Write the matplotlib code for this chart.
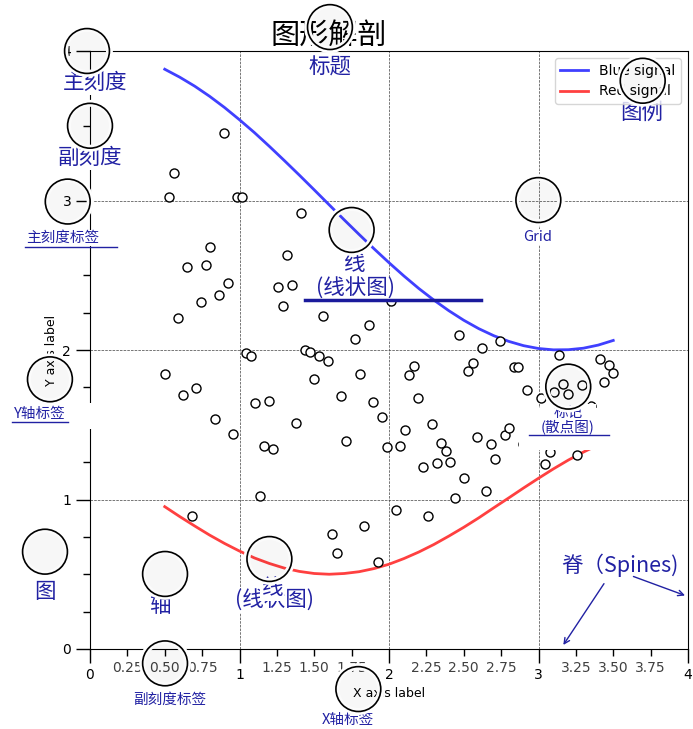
import matplotlib.pyplot as plt
from matplotlib.patches import Circle, Rectangle
from matplotlib.patheffects import withStroke
from matplotlib.ticker import AutoMinorLocator, MultipleLocator, FuncFormatter

# ── DATA ─────────────────────────────────────────────────────────────────────
signal_x = [0.5, 0.6, 0.7, 0.8, 0.9, 1.0, 1.1, 1.2, 1.3, 1.4, 1.5,
            1.6, 1.7, 1.8, 1.9, 2.0, 2.1, 2.2, 2.3, 2.4, 2.5,
            2.6, 2.7, 2.8, 2.9, 3.0, 3.1, 3.2, 3.3, 3.4, 3.5]
blue_signal = [3.878, 3.825, 3.765, 3.697, 3.622, 3.540, 3.454, 3.362, 3.267, 3.170, 3.071,
               2.971, 2.871, 2.773, 2.677, 2.584, 2.495, 2.411, 2.334, 2.263, 2.199,
               2.143, 2.096, 2.058, 2.029, 2.010, 2.001, 2.002, 2.012, 2.033, 2.064]
red_signal = [0.952, 0.886, 0.823, 0.762, 0.706, 0.655, 0.609, 0.572, 0.541, 0.519, 0.505,
              0.500, 0.505, 0.517, 0.538, 0.567, 0.605, 0.649, 0.699, 0.755, 0.814,
              0.877, 0.944, 1.010, 1.077, 1.142, 1.205, 1.264, 1.317, 1.365, 1.406]

marker_x = [0.500, 0.530, 0.561, 0.591, 0.621, 0.652, 0.682, 0.712, 0.742, 0.773,
            0.803, 0.833, 0.864, 0.894, 0.924, 0.955, 0.985, 1.015, 1.045, 1.076,
            1.106, 1.136, 1.167, 1.197, 1.227, 1.258, 1.288, 1.318, 1.348, 1.379,
            1.409, 1.439, 1.470, 1.500, 1.530, 1.561, 1.591, 1.621, 1.652, 1.682,
            1.712, 1.742, 1.773, 1.803, 1.833, 1.864, 1.894, 1.924, 1.955, 1.985,
            2.015, 2.045, 2.076, 2.106, 2.136, 2.167, 2.197, 2.227, 2.258, 2.288,
            2.318, 2.348, 2.379, 2.409, 2.439, 2.470, 2.500, 2.530, 2.561, 2.591,
            2.621, 2.652, 2.682, 2.712, 2.742, 2.773, 2.803, 2.833, 2.864, 2.894,
            2.924, 2.955, 2.985, 3.015, 3.045, 3.076, 3.106, 3.136, 3.167, 3.197,
            3.227, 3.258, 3.288, 3.318, 3.348, 3.379, 3.409, 3.439, 3.470, 3.500]
marker_y = [1.841, 3.025, 3.182, 2.212, 1.699, 2.553, 0.892, 1.746, 2.323, 2.567,
            2.689, 1.538, 2.370, 3.454, 2.446, 1.440, 3.025, 3.021, 1.980, 1.958,
            1.648, 1.023, 1.360, 1.661, 1.336, 2.421, 2.292, 2.633, 2.433, 1.510,
            2.918, 2.000, 1.987, 1.806, 1.962, 2.227, 1.924, 0.767, 0.640, 1.694,
            1.393, 2.430, 2.076, 1.837, 0.823, 2.165, 1.650, 0.580, 1.552, 1.353,
            2.330, 0.928, 1.360, 1.467, 1.835, 1.893, 1.679, 1.217, 0.892, 1.503,
            1.242, 1.380, 1.322, 1.249, 1.012, 2.102, 1.146, 1.858, 1.913, 1.420,
            2.015, 1.055, 1.371, 1.269, 2.062, 1.431, 1.480, 1.888, 1.888, 1.371,
            1.730, 1.498, 1.431, 1.679, 1.237, 1.316, 1.721, 1.969, 1.773, 1.708,
            1.532, 1.300, 1.764, 1.465, 1.623, 1.498, 1.938, 1.784, 1.898, 1.844]

BLUE = (0.25, 0.25, 1.00)
RED = (1.00, 0.25, 0.25)
NOTE = "#2121a3"
CJK = ["Noto Sans CJK SC", "DejaVu Sans"]

# ── AXES ─────────────────────────────────────────────────────────────────────
fig = plt.figure(figsize=(6.93, 7.29), dpi=100)
ax = fig.add_axes([90 / 693, 80 / 729, 598 / 693, 598 / 729])


def minor_tick(x, pos):
    if not x % 1.0:
        return ""
    return f"{x:.2f}"


ax.xaxis.set_major_locator(MultipleLocator(1.0))
ax.xaxis.set_minor_locator(AutoMinorLocator(4))
ax.yaxis.set_major_locator(MultipleLocator(1.0))
ax.yaxis.set_minor_locator(AutoMinorLocator(4))
ax.xaxis.set_minor_formatter(FuncFormatter(minor_tick))
ax.set_xlim(0, 4)
ax.set_ylim(0, 4)

ax.tick_params(which="major", width=1.0, length=10, labelsize=10)
ax.tick_params(which="minor", width=1.0, length=5, labelsize=10, labelcolor="0.25")
ax.grid(linestyle="--", linewidth=0.5, color=".25", zorder=-10)

ax.plot(signal_x, blue_signal, color=BLUE, lw=2, label="Blue signal", zorder=2)
ax.plot(signal_x, red_signal, color=RED, lw=2, label="Red signal", zorder=2)
ax.plot(marker_x, marker_y, lw=0, marker="o", markersize=6.5, mew=1,
        markerfacecolor="w", markeredgecolor="k", zorder=2.5)

ax.set_title("图形解剖", fontsize=21, family=CJK, x=0.4, pad=4)
ax.set_xlabel("X axis label", fontsize=9)
ax.set_ylabel("Y axis label", fontsize=9, labelpad=3)
ax.legend(loc="upper right", fontsize=10)

# ── ANNOTATIONS ──────────────────────────────────────────────────────────────
spots = [(-0.02, 4.0), (0.0, 3.5), (-0.149, 2.993), (2.999, 3.003),
         (3.697, 3.801), (1.605, 4.16), (1.75, 2.803), (3.199, 1.755),
         (-0.268, 1.804), (-0.301, 0.651), (0.502, 0.502), (1.2, 0.602),
         (1.795, -0.268), (0.502, -0.096)]
for cx, cy in spots:
    ax.add_artist(Circle((cx, cy), 0.15, clip_on=False, zorder=10, lw=1.2,
                         edgecolor="black", facecolor=(0, 0, 0, 0.015),
                         path_effects=[withStroke(linewidth=5, foreground="w")]))

# white backing behind the marker note and the y label note
ax.add_patch(Rectangle((2.87, 1.331), 0.65, 0.284, facecolor="white",
                       edgecolor="none", clip_on=False, zorder=2.9))
ax.add_patch(Rectangle((-0.55, 1.472), 0.585, 0.173, facecolor="white",
                       edgecolor="none", clip_on=False, zorder=2.9))

notes = [(0.033, 3.786, "主刻度", 15.5),
         (0.0, 3.284, "副刻度", 15.5),
         (-0.184, 2.749, "主刻度标签", 10.5),
         (2.997, 2.756, "Grid", 10.5),
         (3.692, 3.585, "图例", 15.5),
         (1.605, 3.886, "标题", 15.5),
         (1.773, 2.408, "(线状图)", 15.5),
         (1.773, 2.575, "线", 15.5),
         (3.197, 1.532, "标记\n(散点图)", 10.5),
         (-0.334, 1.572, "Y轴标签", 10.5),
         (-0.301, 0.381, "图", 15.5),
         (0.468, 0.288, "轴", 15.5),
         (1.231, 0.321, "(线状图)", 15.5),
         (1.22, 0.405, "线", 15.5),
         (1.726, -0.475, "X轴标签", 10.5),
         (0.535, -0.341, "副刻度标签", 10.5),
         (3.545, 0.562, "脊（Spines)", 15.5)]
for tx, ty, s, size in notes:
    ax.text(tx, ty, s, ha="center", va="center", fontsize=size, color=NOTE,
            family=CJK, linespacing=1.0, zorder=3, clip_on=False,
            bbox=dict(facecolor="white", edgecolor="none", pad=1))

# underline strokes below some of the notes
ax.plot([-0.435, 0.181], [2.691, 2.691], color=NOTE, lw=1, clip_on=False, zorder=3.5)
ax.plot([-0.522, -0.147], [1.516, 1.516], color=NOTE, lw=1, clip_on=False, zorder=3.5)
ax.plot([2.936, 3.472], [1.431, 1.431], color=NOTE, lw=1, clip_on=False, zorder=3.5)
ax.plot([1.438, 2.613], [2.334, 2.334], color="#1a1a9c", lw=2.5, clip_on=False, zorder=3.2)

# arrows pointing at the spines
for start, end in [((3.438, 0.437), (3.166, 0.027)), ((3.635, 0.485), (3.980, 0.358))]:
    ax.annotate("", xy=end, xytext=start,
                arrowprops=dict(arrowstyle="->", color=NOTE, lw=1,
                                shrinkA=0, shrinkB=0))

plt.savefig("out.png", dpi=100)
